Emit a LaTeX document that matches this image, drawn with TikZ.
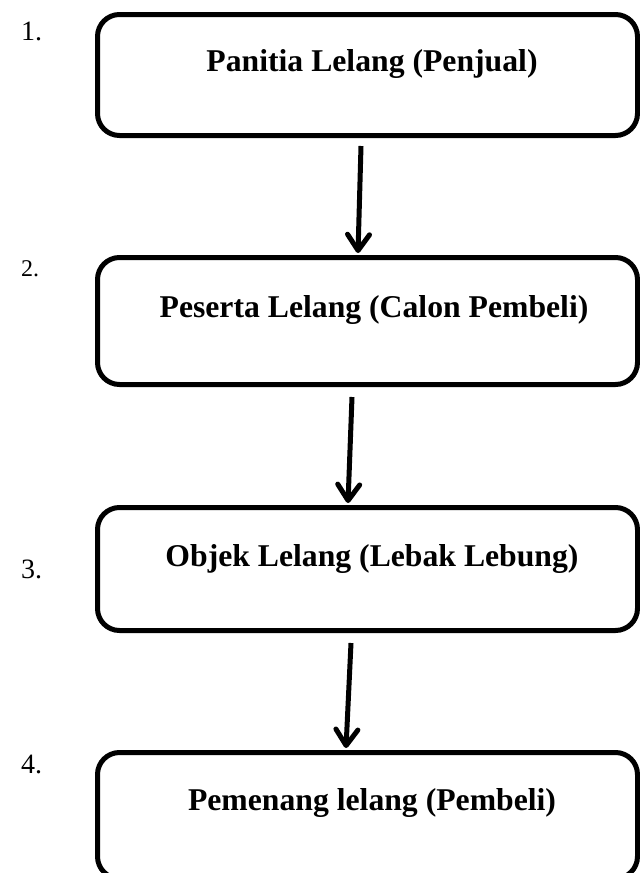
\documentclass[tikz,border=0pt]{standalone}
\usepackage{fontspec}
\setmainfont{Liberation Serif}
\usetikzlibrary{arrows.meta,calc}
\tikzset{
  stepbox/.style={draw=black, line width=5pt, rounded corners=22pt, minimum width=540pt, inner sep=0pt, fill=white},
  boxtext/.style={anchor=base, inner sep=0pt, font=\fontsize{31.7}{38}\selectfont\bfseries},
  numtext/.style={anchor=base west, inner sep=0pt, font=\fontsize{28}{32}\selectfont},
  flowarrow/.style={line width=5pt, -{Straight Barb[length=16pt,width=22pt,round]}}
}
\begin{document}
\begin{tikzpicture}[x=1pt,y=-1pt]
\useasboundingbox (0,0) rectangle (640,873);
\fill[white] (0,0) rectangle (640,873);
\node[stepbox, minimum height=121pt] (b1) at (367.5,75) {};
\node[stepbox, minimum height=127pt] (b2) at (367.5,321) {};
\node[stepbox, minimum height=123pt] (b3) at (367.5,569) {};
\node[stepbox, minimum height=126pt] (b4) at (367.5,815.5) {};
\node[boxtext] (t1) at (372,71) {Panitia Lelang (Penjual)};
\node[boxtext] (t2) at (374,317) {Peserta Lelang (Calon Pembeli)};
\node[boxtext] (t3) at (372,566) {Objek Lelang (Lebak Lebung)};
\node[boxtext] (t4) at (372,810) {Pemenang lelang (Pembeli)};
\node[numtext] (n1) at (21,40) {1.};
\node[numtext, font=\fontsize{24}{28}\selectfont] (n2) at (21,276) {2.};
\node[numtext] (n3) at (21,578) {3.};
\node[numtext] (n4) at (21,773) {4.};
\draw[flowarrow] ([xshift=-6.5pt,yshift=-8pt]b1.south) -- ([xshift=-9.5pt,yshift=2pt]b2.north);
\draw[flowarrow] ([xshift=-15.5pt,yshift=-10pt]b2.south) -- ([xshift=-19.5pt,yshift=2pt]b3.north);
\draw[flowarrow] ([xshift=-16.5pt,yshift=-10pt]b3.south) -- ([xshift=-21.5pt,yshift=2pt]b4.north);
\end{tikzpicture}
\end{document}
